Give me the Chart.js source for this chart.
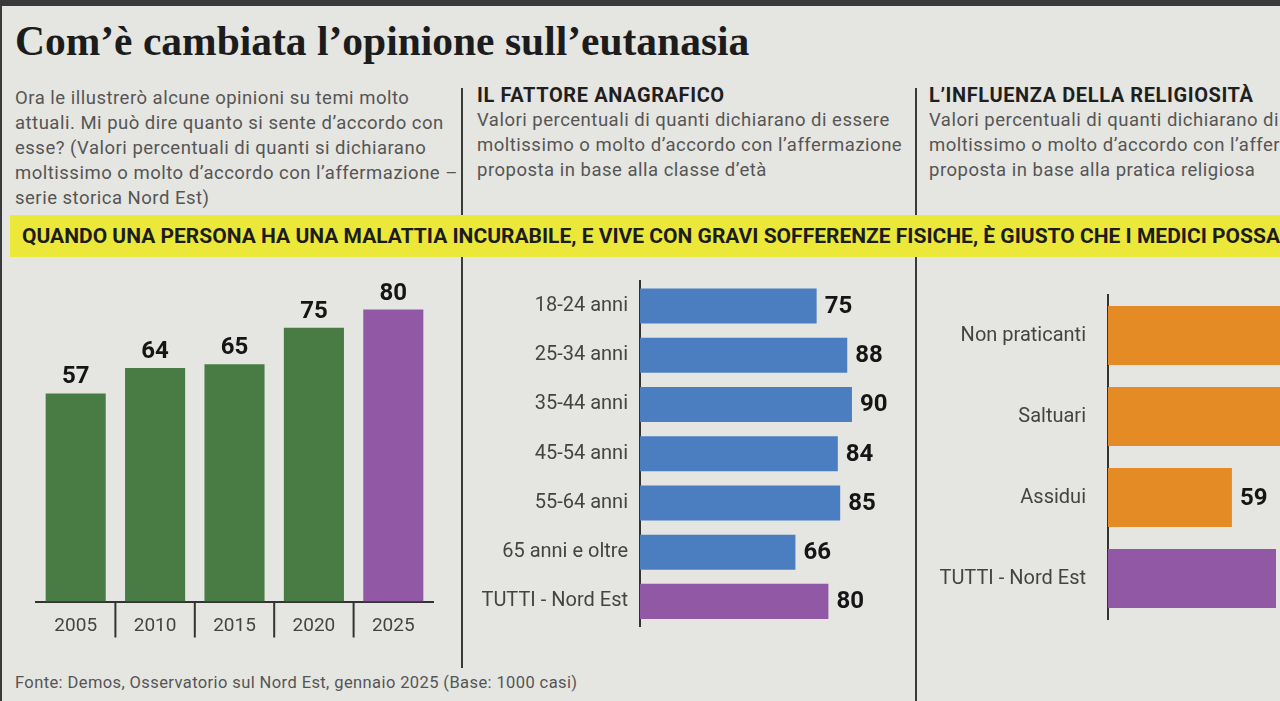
<!DOCTYPE html>
<html>
<head>
<meta charset="utf-8">
<script src="https://cdn.jsdelivr.net/npm/chart.js@4.4.1/dist/chart.umd.min.js"></script>
<style>
  html, body { margin:0; padding:0; width:1280px; height:701px; overflow:hidden; background:#e5e5e1; }
  body { position:relative; font-family: Roboto, "Noto Sans", sans-serif; color:#4a4a4a; }
  .abs { position:absolute; }
  #topbar { left:0; top:0; width:1280px; height:6px; background:#3a3a3a; }
  #leftbar { left:0; top:0; width:2px; height:701px; background:#3a3a3a; }
  #title { left:15px; top:17px; font-family:"Liberation Serif", serif; font-weight:bold; font-size:41.5px; color:#1c1c1c; white-space:nowrap; }
  .desc { font-size:18.5px; letter-spacing:0.5px; line-height:25px; color:#555; white-space:nowrap; }
  .head { font-size:20px; letter-spacing:0.6px; font-weight:bold; color:#1f1f1f; line-height:25px; white-space:nowrap; }
  .divider { width:2px; background:#3a3a3a; }
  #band { left:10px; top:215px; width:1290px; height:42px; background:#ebe83a; }
  #bandtext { left:22px; top:215px; height:42px; line-height:42px; font-family:Roboto, sans-serif; font-weight:bold; font-size:20px; color:#1c1c1c; white-space:nowrap; transform-origin:0 50%; }
  #foot { left:15px; top:673px; font-size:16.5px; letter-spacing:0.4px; color:#555; white-space:nowrap; }
  canvas { position:absolute; }
</style>
</head>
<body>
<div id="topbar" class="abs"></div>
<div id="leftbar" class="abs"></div>
<div id="title" class="abs">Com’è cambiata l’opinione sull’eutanasia</div>

<div class="abs desc" style="left:15px; top:86px;">Ora le illustrerò alcune opinioni su temi molto<br>attuali. Mi può dire quanto si sente d’accordo con<br>esse? (Valori percentuali di quanti si dichiarano<br>moltissimo o molto d’accordo con l’affermazione –<br>serie storica Nord Est)</div>

<div class="abs head" style="left:477px; top:83px;">IL FATTORE ANAGRAFICO</div>
<div class="abs desc" style="left:477px; top:108px;">Valori percentuali di quanti dichiarano di essere<br>moltissimo o molto d’accordo con l’affermazione<br>proposta in base alla classe d’età</div>

<div class="abs head" style="left:929px; top:83px;">L’INFLUENZA DELLA RELIGIOSITÀ</div>
<div class="abs desc" style="left:929px; top:108px;">Valori percentuali di quanti dichiarano di essere<br>moltissimo o molto d’accordo con l’affermazione<br>proposta in base alla pratica religiosa</div>

<div class="abs divider" style="left:461px; top:88px; height:580px;"></div>
<div class="abs divider" style="left:915px; top:88px; height:613px;"></div>

<div id="band" class="abs"></div>
<div id="bandtext" class="abs"><span id="bandfit">QUANDO UNA PERSONA HA UNA MALATTIA INCURABILE, E VIVE CON GRAVI SOFFERENZE FISICHE, È GIUSTO CHE I MEDICI POSSA</span>NO AIUTARLA A MORIRE?</div>

<div id="foot" class="abs">Fonte: Demos, Osservatorio sul Nord Est, gennaio 2025 (Base: 1000 casi)</div>

<canvas id="c1" style="left:0px; top:230px;" width="460" height="430"></canvas>
<canvas id="c2" style="left:462px; top:270px;" width="450" height="370"></canvas>
<canvas id="c3" style="left:918px; top:280px;" width="480" height="350"></canvas>

<script>
// ---- Data ----
const years = ['2005', '2010', '2015', '2020', '2025'];
const yearValues = [57, 64, 65, 75, 80];

const ageGroups = ['18-24 anni', '25-34 anni', '35-44 anni', '45-54 anni', '55-64 anni', '65 anni e oltre', 'TUTTI - Nord Est'];
const ageValues = [75, 88, 90, 84, 85, 66, 80];

const religionGroups = ['Non praticanti', 'Saltuari', 'Assidui', 'TUTTI - Nord Est'];
const religionValues = [91, 86, 59, 80];

// ---- Fit the band headline (condensed face) ----
(function () {
  const w = document.getElementById('bandfit').getBoundingClientRect().width;
  const k = 1258 / w;
  document.getElementById('bandtext').style.transform = 'scaleX(' + k.toFixed(4) + ')';
})();

// ---- Styles ----
const GREEN = '#487c44', PURPLE = '#9159a5', BLUE = '#4a7ec0', ORANGE = '#e48b25';
const AXIS = '#333333', TICK = '#444444';

function colorsFor(n, base) {
  return Array.from({length: n}, (_, i) => i === n - 1 ? PURPLE : base);
}

const valueLabels = {
  id: 'valueLabels',
  afterDatasetsDraw(chart) {
    const ctx = chart.ctx;
    const meta = chart.getDatasetMeta(0);
    const data = chart.data.datasets[0].data;
    ctx.save();
    ctx.fillStyle = '#151515';
    ctx.font = 'bold 24px Roboto, sans-serif';
    meta.data.forEach((el, i) => {
      const txt = String(data[i]);
      if (chart.options.indexAxis === 'y') {
        ctx.textAlign = 'left';
        ctx.textBaseline = 'middle';
        ctx.fillText(txt, el.x + 8, el.y + 1);
      } else {
        ctx.textAlign = 'center';
        ctx.textBaseline = 'bottom';
        ctx.fillText(txt, el.x, el.y - 4);
      }
    });
    ctx.restore();
  }
};

const separators = {
  id: 'separators',
  afterDraw(chart) {
    const xs = chart.scales.x;
    const ctx = chart.ctx;
    const bottom = chart.chartArea.bottom;
    ctx.save();
    ctx.strokeStyle = AXIS;
    ctx.lineWidth = 2;
    for (let i = 1; i < chart.data.labels.length; i++) {
      const x = (xs.getPixelForValue(i - 1) + xs.getPixelForValue(i)) / 2;
      ctx.beginPath();
      ctx.moveTo(x, bottom);
      ctx.lineTo(x, bottom + 36);
      ctx.stroke();
    }
    ctx.restore();
  }
};

Chart.defaults.animation = false;
Chart.defaults.font.family = 'Roboto, sans-serif';

// ---- Chart 1: serie storica ----
new Chart(document.getElementById('c1'), {
  type: 'bar',
  data: {
    labels: years,
    datasets: [{ data: yearValues, backgroundColor: colorsFor(years.length, GREEN), barPercentage: 0.86, categoryPercentage: 0.88 }]
  },
  options: {
    responsive: false,
    layout: { padding: { left: 36, right: 27, top: 6.5, bottom: 22.5 } },
    plugins: { legend: { display: false }, tooltip: { enabled: false } },
    scales: {
      y: { display: false, min: 0, max: 100 },
      x: {
        afterFit: (s) => { s.height = 36; s.paddingLeft = 0; s.paddingRight = 0; },
        grid: { display: false, drawTicks: false },
        border: { display: true, color: AXIS, width: 2 },
        ticks: { color: TICK, font: { size: 19 }, padding: 13 }
      }
    }
  },
  plugins: [valueLabels, separators]
});

// ---- Chart 2: classe d'età ----
new Chart(document.getElementById('c2'), {
  type: 'bar',
  data: {
    labels: ageGroups,
    datasets: [{ data: ageValues, backgroundColor: colorsFor(ageGroups.length, BLUE), barPercentage: 0.8, categoryPercentage: 0.89 }]
  },
  options: {
    indexAxis: 'y',
    responsive: false,
    layout: { padding: { left: 0, right: 36.5, top: 11.4, bottom: 14 } },
    plugins: { legend: { display: false }, tooltip: { enabled: false } },
    scales: {
      x: { display: false, min: 0, max: 100 },
      y: {
        afterFit: (s) => { s.width = 178; s.paddingTop = 0; s.paddingBottom = 0; },
        grid: { display: false, drawTicks: false },
        border: { display: true, color: AXIS, width: 2 },
        ticks: { color: TICK, font: { size: 20 }, padding: 12 }
      }
    }
  },
  plugins: [valueLabels]
});

// ---- Chart 3: pratica religiosa ----
new Chart(document.getElementById('c3'), {
  type: 'bar',
  data: {
    labels: religionGroups,
    datasets: [{ data: religionValues, backgroundColor: colorsFor(religionGroups.length, ORANGE), barPercentage: 0.82, categoryPercentage: 0.89 }]
  },
  options: {
    indexAxis: 'y',
    responsive: false,
    layout: { padding: { left: 0, right: 80, top: 15, bottom: 11 } },
    plugins: { legend: { display: false }, tooltip: { enabled: false } },
    scales: {
      x: { display: false, min: 0, max: 100 },
      y: {
        afterFit: (s) => { s.width = 190; s.paddingTop = 0; s.paddingBottom = 0; },
        grid: { display: false, drawTicks: false },
        border: { display: true, color: AXIS, width: 2 },
        ticks: { color: TICK, font: { size: 20 }, padding: 22 }
      }
    }
  },
  plugins: [valueLabels]
});
</script>
</body>
</html>
